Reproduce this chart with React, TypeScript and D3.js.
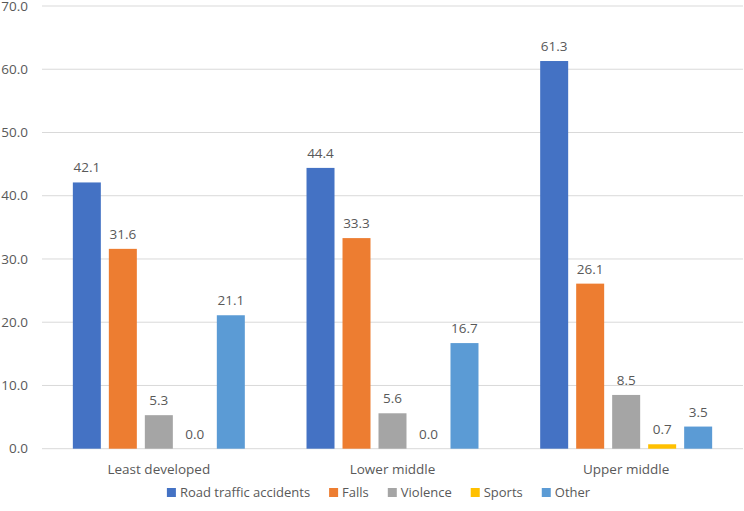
import React from "react";
import * as d3 from "d3";

const categories = ["Least developed", "Lower middle", "Upper middle"];
const seriesNames = ["Road traffic accidents", "Falls", "Violence", "Sports", "Other"];
const roadTraffic = [42.1, 44.4, 61.3];
const falls = [31.6, 33.3, 26.1];
const violence = [5.3, 5.6, 8.5];
const sports = [0.0, 0.0, 0.7];
const other = [21.1, 16.7, 3.5];
const yTicks = [0, 10, 20, 30, 40, 50, 60, 70];
const colors = ["#4472C4", "#ED7D31", "#A5A5A5", "#FFC000", "#5B9BD5"];

const seriesValues = [roadTraffic, falls, violence, sports, other];

const W = 744;
const H = 511;
const FONT = "'Open Sans', 'Noto Sans', sans-serif";
const TEXT = "#595959";

function measure(text: string, size: number) {
  const c = document.createElement("canvas");
  const ctx = c.getContext("2d")!;
  ctx.font = `${size}px 'Open Sans'`;
  return ctx.measureText(text).width;
}

export default function App() {
  const left = 42, right = 743, top = 6, bottom = 448.7;
  const y = d3.scaleLinear().domain([0, 70]).range([bottom, top]);
  const x0 = d3
    .scaleBand<string>()
    .domain(categories)
    .range([left, right])
    .paddingInner(0.264)
    .paddingOuter(0.132);
  const x1 = d3
    .scaleBand<string>()
    .domain(seriesNames)
    .range([0, x0.bandwidth()])
    .paddingInner(0.2222)
    .paddingOuter(0);

  const legendSize = 13;
  const widths = seriesNames.map((s) => measure(s, legendSize));
  const sw = 9, swGap = 4, itemGap = 19;
  const total = widths.reduce((a, w) => a + sw + swGap + w, 0) + itemGap * (seriesNames.length - 1);
  let lx = 378.5 - total / 2;
  const legendItems = seriesNames.map((s, i) => {
    const item = { name: s, x: lx, color: colors[i] };
    lx += sw + swGap + widths[i] + itemGap;
    return item;
  });

  return (
    <svg
      width={W}
      height={H}
      style={{ position: "absolute", left: 0, top: 0, background: "#fff" }}
      fontFamily={FONT}
    >
      {yTicks.map((t) => (
        <g key={t}>
          <line x1={left} x2={right} y1={y(t)} y2={y(t)} stroke="#D9D9D9" strokeWidth={1} />
          <text x={28} y={y(t)} dy="0.35em" textAnchor="end" fontSize={13.5} fill={TEXT}>
            {t.toFixed(1)}
          </text>
        </g>
      ))}
      {categories.map((c, ci) => (
        <g key={c} transform={`translate(${x0(c)},0)`}>
          {seriesNames.map((s, si) => {
            const v = seriesValues[si][ci];
            const bx = x1(s)!;
            return (
              <g key={s}>
                <rect
                  x={bx}
                  y={y(v)}
                  width={x1.bandwidth()}
                  height={bottom - y(v)}
                  fill={colors[si]}
                />
                <text
                  x={bx + x1.bandwidth() / 2}
                  y={y(v) - 10}
                  textAnchor="middle"
                  fontSize={13.5}
                  fill={TEXT}
                >
                  {v.toFixed(1)}
                </text>
              </g>
            );
          })}
          <text x={x0.bandwidth() / 2} y={474} textAnchor="middle" fontSize={13.5} fill={TEXT}>
            {c}
          </text>
        </g>
      ))}
      {legendItems.map((it) => (
        <g key={it.name}>
          <rect x={it.x} y={488} width={sw} height={sw} fill={it.color} />
          <text x={it.x + sw + swGap} y={496.5} fontSize={legendSize} fill={TEXT}>
            {it.name}
          </text>
        </g>
      ))}
    </svg>
  );
}
